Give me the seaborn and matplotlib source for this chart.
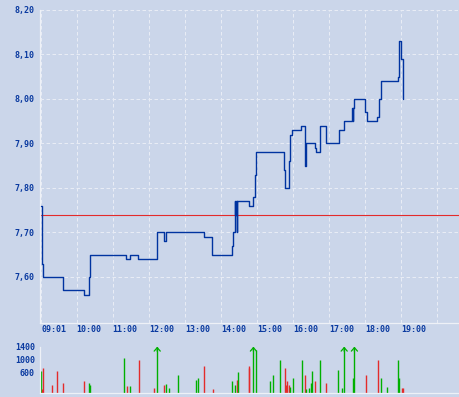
import numpy as np
import pandas as pd
import matplotlib
matplotlib.use("Agg")
import matplotlib.pyplot as plt
import seaborn as sns

# ---------------- data ----------------
price_times = ["09:01", "09:02", "09:04", "09:38", "10:13", "10:21", "10:23", "11:22", "11:28",
               "11:42", "12:13", "12:14", "12:25", "12:29", "13:31", "13:45", "14:18", "14:20",
               "14:23", "14:24", "14:25", "14:26", "14:27", "14:46", "14:54", "14:57", "14:59",
               "15:45", "15:47", "15:54", "15:55", "15:59", "16:13", "16:19", "16:20", "16:21",
               "16:36", "16:38", "16:44", "16:45", "16:54", "17:16", "17:25", "17:38", "17:39",
               "17:40", "17:42", "18:00", "18:03", "18:20", "18:23", "18:26", "18:55", "18:57",
               "19:00", "19:02", "19:03"]
prices = [7.76, 7.63, 7.60, 7.57, 7.56, 7.60, 7.65, 7.64, 7.65,
          7.64, 7.67, 7.70, 7.68, 7.70, 7.69, 7.65, 7.67, 7.70,
          7.77, 7.74, 7.77, 7.70, 7.77, 7.76, 7.78, 7.83, 7.88,
          7.84, 7.80, 7.86, 7.92, 7.93, 7.94, 7.89, 7.85, 7.90,
          7.89, 7.88, 7.91, 7.94, 7.90, 7.93, 7.95, 7.98, 7.95,
          7.98, 8.00, 7.97, 7.95, 7.96, 8.00, 8.04, 8.05, 8.13,
          8.09, 8.02, 8.00]
ref_price = 7.74

vol_times = ["09:01", "09:03", "09:04", "09:19", "09:28", "09:38", "10:13", "10:21", "10:23",
             "11:18", "11:23", "11:28", "11:44", "12:08", "12:14", "12:26", "12:29", "12:34",
             "12:49", "13:19", "13:21", "13:32", "13:46", "14:19", "14:24", "14:27", "14:29",
             "14:46", "14:47", "14:54", "14:59", "15:22", "15:27", "15:39", "15:47", "15:49",
             "15:50", "15:54", "15:55", "16:00", "16:14", "16:20", "16:22", "16:27", "16:29",
             "16:32", "16:37", "16:45", "16:54", "17:15", "17:22", "17:25", "17:40", "17:42",
             "18:02", "18:22", "18:27", "18:37", "18:55", "18:57", "19:01", "19:02"]
vol_values = [650, 100, 760, 220, 650, 280, 340, 280, 220,
              1060, 200, 200, 1000, 130, 2000, 220, 260, 130,
              520, 380, 440, 820, 100, 345, 225, 375, 615,
              735, 825, 2000, 1305, 345, 525, 1005, 735, 225,
              345, 225, 165, 435, 1005, 525, 105, 135, 285,
              645, 345, 1005, 285, 675, 135, 2000, 435, 2000,
              525, 1005, 435, 165, 1005, 435, 135, 135]
vol_dir = ["up", "down", "down", "down", "down", "down", "down", "up", "up",
           "up", "down", "up", "down", "down", "up", "down", "up", "up",
           "up", "up", "up", "down", "down", "up", "up", "down", "up",
           "down", "down", "up", "up", "up", "up", "up", "down", "down",
           "down", "down", "up", "up", "up", "down", "up", "up", "up",
           "up", "down", "up", "down", "up", "up", "up", "up", "up",
           "down", "down", "up", "up", "up", "up", "down", "down"]

x_tick_times = ["09:01", "10:00", "11:00", "12:00", "13:00", "14:00", "15:00",
                "16:00", "17:00", "18:00", "19:00", "20:00"]
x_tick_labels = ["09:01", "10:00", "11:00", "12:00", "13:00", "14:00", "15:00",
                 "16:00", "17:00", "18:00", "19:00", ""]
price_ticks = [7.60, 7.70, 7.80, 7.90, 8.00, 8.10, 8.20]
vol_ticks = [600, 1000, 1400]
vol_cap = 1400


def to_hours(s):
    h, m = s.split(":")
    return int(h) + int(m) / 60.0


# ---------------- style ----------------
BG = "#cbd6ea"
TXT = "#0a3aa0"
LINE = "#0033a0"
GREEN = "#00b000"
RED = "#e32b2b"
AXC = "#eef1f7"
GRID = "#e8ecf5"

sns.set_style("white", rc={"axes.facecolor": BG, "figure.facecolor": BG})
plt.rcParams["font.family"] = ["DejaVu Sans Mono"]
plt.rcParams["font.weight"] = "bold"

fig = plt.figure(figsize=(4.6, 3.97), dpi=100)
W, H = 460.0, 397.0
ax = fig.add_axes([40 / W, 1 - 322.7 / H, 419 / W, (322.7 - 10) / H])
axv = fig.add_axes([40 / W, 1 - 392.5 / H, 419 / W, (392.5 - 346.7) / H], sharex=ax)

# ---------------- price panel ----------------
df = pd.DataFrame({"t": [to_hours(s) for s in price_times], "price": prices})
sns.lineplot(data=df, x="t", y="price", ax=ax, color=LINE, lw=1.0,
             drawstyle="steps-post", estimator=None, sort=False, zorder=3)
ax.axhline(ref_price, color=RED, lw=0.8, zorder=2)

ax.set_xlim(9.0 - 0.6 / 36.07, 9.0 + (459 - 40.6) / 36.07)
ax.set_ylim(7.497, 8.20)
ax.set_yticks(price_ticks)
ax.set_yticklabels([f"{v:.2f}".replace(".", ",") for v in price_ticks])
ax.set_xticks([to_hours(s) for s in x_tick_times])
ax.set_xticklabels(x_tick_labels, ha="left")
ax.grid(True, color=GRID, lw=0.72, ls=(0, (3.5, 2.5)))
ax.set_axisbelow(True)
ax.set_xlabel("")
ax.set_ylabel("")
ax.tick_params(axis="both", length=0, labelsize=6, labelcolor=TXT)
ax.tick_params(axis="y", pad=3.6)
ax.tick_params(axis="x", pad=2.0)
for lab in ax.get_xticklabels():
    lab.set_x(lab.get_position()[0])
for sp in ["top", "right"]:
    ax.spines[sp].set_visible(False)
for sp in ["left", "bottom"]:
    ax.spines[sp].set_color(AXC)
    ax.spines[sp].set_linewidth(0.9)

# ---------------- volume panel ----------------
vt = np.array([to_hours(s) for s in vol_times])
vv = np.array(vol_values, dtype=float)
vcol = np.array([GREEN if d == "up" else RED for d in vol_dir])
vclip = np.minimum(vv, vol_cap)
axv.vlines(vt, 0, vclip, colors=vcol, lw=1.0)
for t, v, c in zip(vt, vv, vcol):
    if v > vol_cap:
        axv.annotate("", xy=(t, vol_cap), xytext=(t, vol_cap * 0.9),
                     arrowprops=dict(arrowstyle="->,head_length=0.25,head_width=0.22",
                                     color=c, lw=0.9, shrinkA=0, shrinkB=0,
                                     mutation_scale=10),
                     annotation_clip=False)
axv.set_ylim(0, vol_cap)
axv.set_yticks(vol_ticks)
axv.set_yticklabels([str(v) for v in vol_ticks])
axv.tick_params(axis="both", length=0, labelsize=6, labelcolor=TXT)
axv.tick_params(axis="y", pad=3.6)
axv.tick_params(axis="x", labelbottom=False)
axv.grid(False)
for sp in ["top", "right"]:
    axv.spines[sp].set_visible(False)
for sp in ["left", "bottom"]:
    axv.spines[sp].set_color(AXC)
    axv.spines[sp].set_linewidth(0.9)

fig.savefig("out.png", dpi=100, facecolor=BG)
